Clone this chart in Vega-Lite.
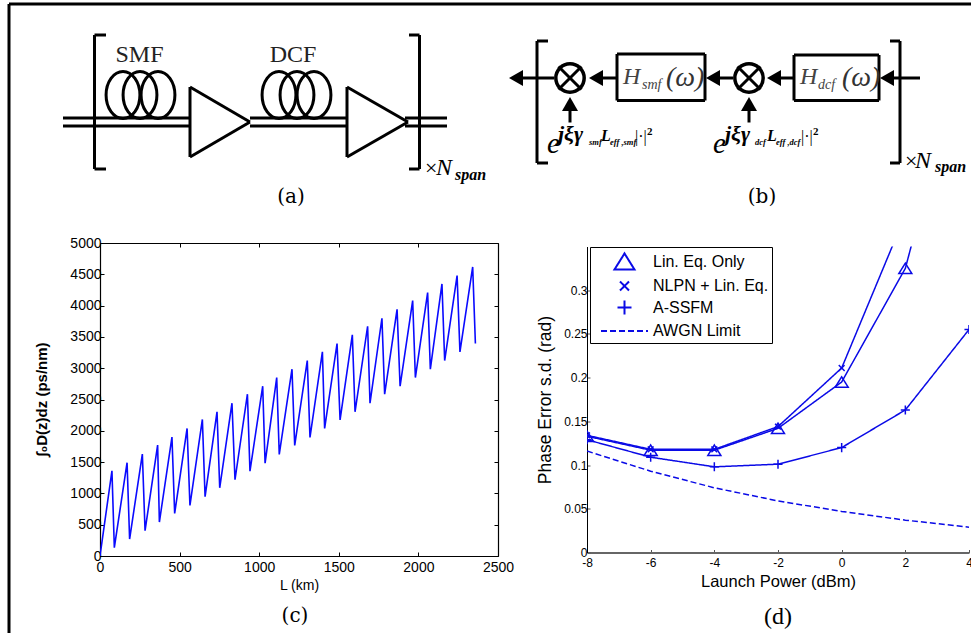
{
"$schema":"https://vega.github.io/schema/vega-lite/v6.json",
"padding":0,
"background":"white",
"bounds":"flush",
"spacing":3,
"config":{"view":{"stroke":null},"font":"Liberation Sans"},
"vconcat":[
{
"width":971,"height":240,
"encoding":{
"x":{"field":"x","type":"quantitative","scale":{"domain":[0,971]},"axis":null},
"y":{"field":"y","type":"quantitative","scale":{"domain":[240,0]},"axis":null}
},
"layer":[
{"data":{"values":[
{"x":9,"y":4,"x2":971,"y2":4},{"x":9,"y":4,"x2":9,"y2":633},
{"x":94.5,"y":35,"x2":94.5,"y2":169},{"x":94.5,"y":35,"x2":106,"y2":35},{"x":94.5,"y":169,"x2":106,"y2":169},
{"x":419.5,"y":35,"x2":419.5,"y2":169},{"x":409,"y":35,"x2":419.5,"y2":35},{"x":409,"y":169,"x2":419.5,"y2":169},
{"x":63,"y":118,"x2":190,"y2":118},{"x":63,"y":126,"x2":190,"y2":126},
{"x":250,"y":118,"x2":347,"y2":118},{"x":250,"y":126,"x2":347,"y2":126},
{"x":405,"y":118,"x2":447,"y2":118},{"x":405,"y":126,"x2":447,"y2":126},
{"x":190,"y":87,"x2":190,"y2":157},{"x":190,"y":87,"x2":250,"y2":122},{"x":190,"y":157,"x2":250,"y2":122},
{"x":347,"y":87,"x2":347,"y2":157},{"x":347,"y":87,"x2":408,"y2":122},{"x":347,"y":157,"x2":408,"y2":122},
{"x":537,"y":41,"x2":537,"y2":163},{"x":537,"y":41,"x2":548,"y2":41},{"x":537,"y":163,"x2":548,"y2":163},
{"x":900,"y":41,"x2":900,"y2":163},{"x":890,"y":41,"x2":900,"y2":41},{"x":890,"y":163,"x2":900,"y2":163},
{"x":520,"y":78,"x2":554,"y2":78},{"x":600,"y":78,"x2":617,"y2":78},{"x":716,"y":78,"x2":733,"y2":78},{"x":778,"y":78,"x2":794,"y2":78},{"x":892,"y":78,"x2":920,"y2":78},
{"x":617,"y":54,"x2":705,"y2":54},{"x":617,"y":100.5,"x2":705,"y2":100.5},{"x":617,"y":54,"x2":617,"y2":100.5},{"x":705,"y":54,"x2":705,"y2":100.5},
{"x":794,"y":55,"x2":879,"y2":55},{"x":794,"y":100.5,"x2":879,"y2":100.5},{"x":794,"y":55,"x2":794,"y2":100.5},{"x":879,"y":55,"x2":879,"y2":100.5},
{"x":570,"y":108,"x2":570,"y2":122.5},{"x":749,"y":108,"x2":749,"y2":122.5},
{"x":558.5,"y":66.5,"x2":581.5,"y2":89.5},{"x":558.5,"y":89.5,"x2":581.5,"y2":66.5},
{"x":737.5,"y":66.5,"x2":760.5,"y2":89.5},{"x":737.5,"y":89.5,"x2":760.5,"y2":66.5}
]},
"mark":{"type":"rule","color":"black","strokeWidth":3},
"encoding":{"x2":{"field":"x2"},"y2":{"field":"y2"}}},
{"data":{"values":[{"x":123,"y":95},{"x":140,"y":95},{"x":158,"y":95},{"x":279,"y":95},{"x":297,"y":95},{"x":314,"y":95}]},
"mark":{"type":"point","filled":false,"color":"black","strokeWidth":3,"opacity":1,"shape":"M-0.72,0A0.72,1,0,1,1,0.72,0A0.72,1,0,1,1,-0.72,0Z","size":2209}},
{"data":{"values":[{"x":570,"y":78},{"x":749,"y":78}]},
"mark":{"type":"point","filled":false,"color":"black","strokeWidth":3.5,"opacity":1,"shape":"circle","size":804}},
{"data":{"values":[{"x":516,"y":78},{"x":596,"y":78},{"x":713,"y":78},{"x":774,"y":78},{"x":887,"y":78}]},
"mark":{"type":"point","filled":true,"color":"black","opacity":1,"shape":"M-0.875,0L0.875,-1L0.875,1Z","size":256}},
{"data":{"values":[{"x":570,"y":104},{"x":749,"y":104}]},
"mark":{"type":"point","filled":true,"color":"black","opacity":1,"shape":"M0,-0.875L1,0.875L-1,0.875Z","size":256}},
{"data":{"values":[{"x":139.5,"y":62,"t":"SMF"},{"x":293,"y":62,"t":"DCF"}]},
"mark":{"type":"text","font":"Liberation Serif","fontSize":24,"align":"center","baseline":"alphabetic","color":"#222"},
"encoding":{"text":{"field":"t"}}},
{"data":{"values":[{"x":291,"y":203,"t":"(a)"},{"x":762,"y":203,"t":"(b)"}]},
"mark":{"type":"text","font":"DejaVu Serif","fontSize":20,"align":"center","baseline":"alphabetic","color":"black"},
"encoding":{"text":{"field":"t"}}},
{"data":{"values":[{"x":425,"y":175,"t":"×"},{"x":905,"y":168,"t":"×"}]},
"mark":{"type":"text","font":"Liberation Serif","fontSize":22,"align":"left","baseline":"alphabetic","color":"black"},
"encoding":{"text":{"field":"t"}}},
{"data":{"values":[{"x":436,"y":175,"t":"N"},{"x":915,"y":168,"t":"N"}]},
"mark":{"type":"text","font":"Liberation Serif","fontStyle":"italic","fontSize":24,"align":"left","baseline":"alphabetic","color":"black"},
"encoding":{"text":{"field":"t"}}},
{"data":{"values":[{"x":455,"y":180,"t":"span"},{"x":935,"y":172,"t":"span"}]},
"mark":{"type":"text","font":"Liberation Serif","fontStyle":"italic","fontWeight":"bold","fontSize":16,"align":"left","baseline":"alphabetic","color":"black"},
"encoding":{"text":{"field":"t"}}},
{"data":{"values":[{"x":623,"y":84,"t":"H"},{"x":800,"y":84,"t":"H"}]},
"mark":{"type":"text","font":"Liberation Serif","fontStyle":"italic","fontSize":24,"align":"left","baseline":"alphabetic","color":"#444"},
"encoding":{"text":{"field":"t"}}},
{"data":{"values":[{"x":642,"y":89,"t":"smf"},{"x":818,"y":89,"t":"dcf"}]},
"mark":{"type":"text","font":"Liberation Serif","fontStyle":"italic","fontSize":14,"align":"left","baseline":"alphabetic","color":"#444"},
"encoding":{"text":{"field":"t"}}},
{"data":{"values":[{"x":666,"y":86,"t":"(ω)"},{"x":842,"y":86,"t":"(ω)"}]},
"mark":{"type":"text","font":"Liberation Serif","fontStyle":"italic","fontSize":28,"align":"left","baseline":"alphabetic","color":"#333"},
"encoding":{"text":{"field":"t"}}},
{"data":{"values":[{"x":547,"y":153,"t":"e"},{"x":713,"y":153,"t":"e"}]},
"mark":{"type":"text","font":"Liberation Serif","fontStyle":"italic","fontSize":29,"align":"left","baseline":"alphabetic","color":"black"},
"encoding":{"text":{"field":"t"}}},
{"data":{"values":[{"x":558,"y":141,"t":"jξγ"},{"x":725,"y":141,"t":"jξγ"}]},
"mark":{"type":"text","font":"Liberation Serif","fontStyle":"italic","fontWeight":"bold","fontSize":22,"align":"left","baseline":"alphabetic","color":"black"},
"encoding":{"text":{"field":"t"}}},
{"data":{"values":[{"x":601,"y":141,"t":"L"},{"x":767,"y":141,"t":"L"}]},
"mark":{"type":"text","font":"Liberation Serif","fontStyle":"italic","fontWeight":"bold","fontSize":16,"align":"left","baseline":"alphabetic","color":"black"},
"encoding":{"text":{"field":"t"}}},
{"data":{"values":[{"x":589,"y":145,"t":"smf"},{"x":755,"y":145,"t":"dcf"},{"x":610,"y":145,"t":"eff ,smf"},{"x":776,"y":145,"t":"eff ,dcf"}]},
"mark":{"type":"text","font":"Liberation Serif","fontStyle":"italic","fontWeight":"bold","fontSize":8.5,"align":"left","baseline":"alphabetic","color":"black"},
"encoding":{"text":{"field":"t"}}},
{"data":{"values":[{"x":635,"y":142,"t":"|·|"},{"x":801,"y":142,"t":"|·|"}]},
"mark":{"type":"text","font":"Liberation Serif","fontSize":16,"align":"left","baseline":"alphabetic","color":"black"},
"encoding":{"text":{"field":"t"}}},
{"data":{"values":[{"x":647,"y":135,"t":"2"},{"x":813,"y":135,"t":"2"}]},
"mark":{"type":"text","font":"Liberation Serif","fontWeight":"bold","fontSize":11,"align":"left","baseline":"alphabetic","color":"black"},
"encoding":{"text":{"field":"t"}}}
]
},
{
"hconcat":[
{"width":11,"height":1,"data":{"values":[{"x":0}]},"mark":{"type":"rule","opacity":0},"encoding":{"x":{"field":"x","type":"quantitative","axis":null}}},
{
"width":398,"height":313,
"title":{"text":"(c)","orient":"bottom","font":"DejaVu Serif","fontSize":20,"fontWeight":"normal","color":"black","offset":14,"dx":-4},
"data":{"values":[
{"L":0,"v":0},{"L":75,"v":1362},{"L":90,"v":133},{"L":170,"v":1490},{"L":186,"v":271},{"L":266,"v":1628},{"L":283,"v":404},{"L":362,"v":1771},{"L":373,"v":543},{"L":452,"v":1899},{"L":469,"v":681},{"L":547,"v":2037},{"L":565,"v":808},{"L":643,"v":2181},{"L":660,"v":947},{"L":735,"v":2303},{"L":752,"v":1090},{"L":829,"v":2441},{"L":848,"v":1218},{"L":926,"v":2585},{"L":942,"v":1356},{"L":1022,"v":2713},{"L":1037,"v":1484},{"L":1110,"v":2851},{"L":1126,"v":1622},{"L":1206,"v":2984},{"L":1223,"v":1766},{"L":1302,"v":3122},{"L":1319,"v":1894},{"L":1397,"v":3261},{"L":1411,"v":2037},{"L":1489,"v":3394},{"L":1508,"v":2175},{"L":1585,"v":3532},{"L":1602,"v":2303},{"L":1681,"v":3670},{"L":1696,"v":2441},{"L":1771,"v":3798},{"L":1788,"v":2585},{"L":1866,"v":3941},{"L":1885,"v":2713},{"L":1964,"v":4080},{"L":1981,"v":2851},{"L":2058,"v":4207},{"L":2075,"v":2984},{"L":2148,"v":4346},{"L":2165,"v":3122},{"L":2243,"v":4479},{"L":2261,"v":3261},{"L":2341,"v":4617},{"L":2358,"v":3394}
]},
"resolve":{"axis":{"x":"independent","y":"independent"}},
"layer":[
{"mark":{"type":"line","color":"#0a0aff","strokeWidth":1.6,"clip":true},
"encoding":{
"x":{"field":"L","type":"quantitative","scale":{"domain":[0,2500],"nice":false},
"axis":{"orient":"bottom","values":[0,500,1000,1500,2000,2500],"format":"d","title":"L (km)","grid":false,"tickSize":-4,"tickColor":"black","domainColor":"black","domainWidth":1.2,"labelColor":"black","labelFontSize":14,"labelPadding":8,"labelFlush":false,"titleFontSize":14,"titleFontWeight":"normal","titleColor":"black","titlePadding":4}},
"y":{"field":"v","type":"quantitative","scale":{"domain":[0,5000],"nice":false},
"axis":{"orient":"left","values":[0,500,1000,1500,2000,2500,3000,3500,4000,4500,5000],"format":"d","title":"∫₀D(z)dz  (ps/nm)","grid":false,"tickSize":-4,"tickColor":"black","domainColor":"black","domainWidth":1.2,"labelColor":"black","labelFontSize":14,"labelPadding":3,"titleFontSize":15,"titleFontWeight":"bold","titleColor":"black","titleX":-51,"titleY":156}},
"order":{"field":"L"}}},
{"mark":{"type":"line","opacity":0},
"encoding":{
"x":{"field":"L","type":"quantitative","axis":{"orient":"top","values":[0,500,1000,1500,2000,2500],"labels":false,"title":null,"grid":false,"tickSize":-4,"tickColor":"black","domainColor":"black","domainWidth":1.2}},
"y":{"field":"v","type":"quantitative","axis":{"orient":"right","values":[0,500,1000,1500,2000,2500,3000,3500,4000,4500,5000],"labels":false,"title":null,"grid":false,"tickSize":-4,"tickColor":"black","domainColor":"black","domainWidth":1.2}}}}
]
},
{
"width":382,"height":306,
"title":{"text":"(d)","orient":"bottom","font":"Liberation Serif","fontSize":24,"fontWeight":"normal","color":"black","offset":15},
"data":{"values":[
{"p":-8,"s":"Lin. Eq. Only","e":0.133},{"p":-6,"s":"Lin. Eq. Only","e":0.117},{"p":-4,"s":"Lin. Eq. Only","e":0.117},{"p":-2,"s":"Lin. Eq. Only","e":0.142},{"p":0,"s":"Lin. Eq. Only","e":0.195},{"p":2,"s":"Lin. Eq. Only","e":0.325},{"p":4,"s":"Lin. Eq. Only","e":0.6},
{"p":-8,"s":"NLPN + Lin. Eq.","e":0.134},{"p":-6,"s":"NLPN + Lin. Eq.","e":0.118},{"p":-4,"s":"NLPN + Lin. Eq.","e":0.118},{"p":-2,"s":"NLPN + Lin. Eq.","e":0.144},{"p":0,"s":"NLPN + Lin. Eq.","e":0.211},{"p":2,"s":"NLPN + Lin. Eq.","e":0.386},{"p":4,"s":"NLPN + Lin. Eq.","e":0.75},
{"p":-8,"s":"A-SSFM","e":0.129},{"p":-6,"s":"A-SSFM","e":0.109},{"p":-4,"s":"A-SSFM","e":0.098},{"p":-2,"s":"A-SSFM","e":0.101},{"p":0,"s":"A-SSFM","e":0.12},{"p":2,"s":"A-SSFM","e":0.163},{"p":4,"s":"A-SSFM","e":0.255},
{"p":-8,"s":"AWGN Limit","e":0.116},{"p":-6,"s":"AWGN Limit","e":0.093},{"p":-4,"s":"AWGN Limit","e":0.074},{"p":-2,"s":"AWGN Limit","e":0.059},{"p":0,"s":"AWGN Limit","e":0.047},{"p":2,"s":"AWGN Limit","e":0.037},{"p":4,"s":"AWGN Limit","e":0.029}
]},
"encoding":{
"x":{"field":"p","type":"quantitative","scale":{"domain":[-8,4],"nice":false},
"axis":{"values":[-8,-6,-4,-2,0,2,4],"labelExpr":"''+datum.value","title":"Launch Power (dBm)","grid":false,"tickSize":-3,"tickColor":"#555","domainColor":"#666","domainWidth":2,"labelColor":"black","labelFontSize":12,"labelPadding":8,"labelFlush":false,"titleFontSize":16.5,"titleFontWeight":"normal","titleColor":"black","titlePadding":5}},
"y":{"field":"e","type":"quantitative","scale":{"domain":[0,0.35],"nice":false},
"axis":{"values":[0,0.05,0.1,0.15,0.2,0.25,0.3],"format":"~g","title":"Phase Error s.d. (rad)","grid":false,"tickSize":-3,"tickColor":"#555","domainColor":"black","domainWidth":1,"labelColor":"black","labelFontSize":12,"labelPadding":3,"titleFontSize":17.5,"titleFontWeight":"normal","titleColor":"black","titleX":-33}}
},
"layer":[
{"mark":{"type":"line","color":"#0a0ae6","strokeWidth":1.5,"clip":true},
"encoding":{
"detail":{"field":"s"},
"strokeDash":{"field":"s","type":"nominal","scale":{"domain":["Lin. Eq. Only","NLPN + Lin. Eq.","A-SSFM","AWGN Limit"],"range":[[1,0],[1,0],[1,0],[6,3]]}}}},
{"transform":[{"filter":"datum.s !== 'AWGN Limit'"}],
"mark":{"type":"point","filled":false,"color":"#0a0ae6","strokeWidth":1.5,"opacity":1,"size":169,"clip":true},
"encoding":{
"shape":{"field":"s","type":"nominal","scale":{"domain":["Lin. Eq. Only","NLPN + Lin. Eq.","A-SSFM","AWGN Limit"],"range":["M0,-0.8L1,0.8L-1,0.8Z","M-0.45,-0.45L0.45,0.45M-0.45,0.45L0.45,-0.45","M-0.7,0H0.7M0,-0.7V0.7","M-2.35,0H2.35"]},
"legend":{"title":null,"orient":"none","legendX":590,"legendY":247,"fillColor":"white","strokeColor":"black","padding":3.5,"rowPadding":1.5,"symbolSize":400,"symbolOffset":20,"labelOffset":17.5,"labelFontSize":16,"labelColor":"black","symbolStrokeColor":"#0a0ae6","symbolStrokeWidth":2,"symbolFillColor":"transparent","symbolOpacity":1}},
"strokeDash":{"field":"s","type":"nominal"}}}
]
}
],
"spacing":89,
"bounds":"flush",
"center":true
}
]
}
